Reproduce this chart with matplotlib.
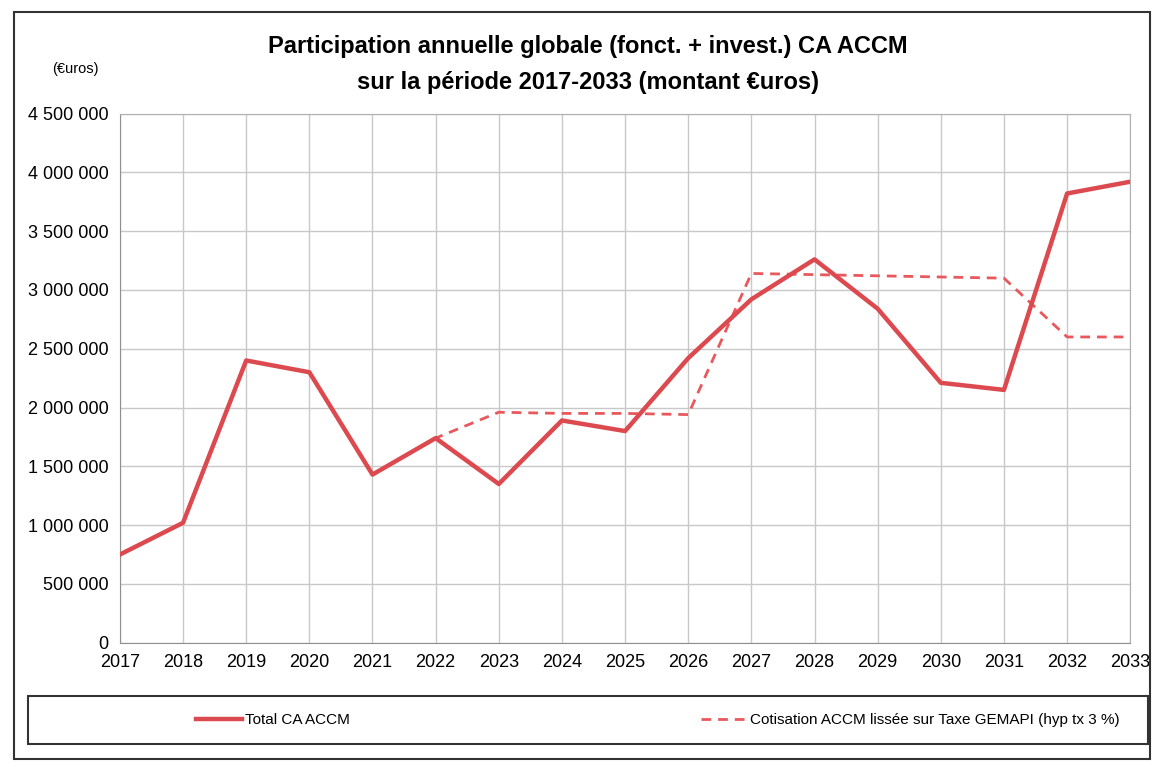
import matplotlib
matplotlib.use("Agg")
import matplotlib.pyplot as plt
from matplotlib.ticker import FuncFormatter, MultipleLocator
from matplotlib.patches import Rectangle

plt.rcParams['font.family'] = ['Liberation Sans Narrow', 'Liberation Sans', 'DejaVu Sans']

years = list(range(2017, 2034))
total_ca = [750000, 1020000, 2400000, 2300000, 1430000, 1740000, 1350000, 1890000,
            1800000, 2420000, 2920000, 3260000, 2840000, 2210000, 2150000, 3820000, 3920000]
cotisation = [750000, 1020000, 2400000, 2300000, 1430000, 1740000, 1960000, 1950000,
              1950000, 1940000, 3140000, 3130000, 3120000, 3110000, 3100000, 2600000, 2600000]

fig = plt.figure(figsize=(11.64, 7.67), dpi=100)
ax = fig.add_axes([0.103, 0.162, 0.868, 0.69])

ax.plot(years, cotisation, color='#e8585c', lw=2.0, ls=(0, (3.5, 2.5)),
        label='Cotisation ACCM lissée sur Taxe GEMAPI (hyp tx 3 %)')
ax.plot(years, total_ca, color='#dc4a4f', lw=3.2, label='Total CA ACCM', zorder=3)

ax.set_xlim(2017, 2033)
ax.set_ylim(0, 4500000)
ax.xaxis.set_major_locator(MultipleLocator(1))
ax.yaxis.set_major_locator(MultipleLocator(500000))
ax.yaxis.set_major_formatter(FuncFormatter(lambda v, p: f"{int(v):,}".replace(',', ' ')))
ax.grid(True, color='#c8c8c8', lw=1.0)
ax.tick_params(length=0, labelsize=13, pad=8)
for s in ['top', 'right']:
    ax.spines[s].set_color('#b0b0b0')
for s in ['left', 'bottom']:
    ax.spines[s].set_color('#909090')

fig.text(0.505, 0.94, 'Participation annuelle globale (fonct. + invest.) CA ACCM',
         ha='center', va='center', fontsize=17, fontweight='bold')
fig.text(0.505, 0.893, 'sur la période 2017-2033 (montant €uros)',
         ha='center', va='center', fontsize=17, fontweight='bold')
fig.text(0.065, 0.91, '(€uros)', ha='center', va='center', fontsize=10.5)

# outer frame and legend frame
fig.patches.append(Rectangle((0.012, 0.01), 0.976, 0.975, transform=fig.transFigure,
                             fill=False, ec='#333333', lw=1.5))
handles, labels = ax.get_legend_handles_labels()
leg = fig.legend(handles[::-1], labels[::-1], loc='center', ncol=2,
                 bbox_to_anchor=(0.565, 0.061), frameon=False, fontsize=11,
                 handlelength=3.0, handletextpad=0.2, columnspacing=23)
fig.patches.append(Rectangle((0.024, 0.03), 0.962, 0.062, transform=fig.transFigure,
                             fill=False, ec='#333333', lw=1.5))

fig.savefig('out.png', dpi=100)
